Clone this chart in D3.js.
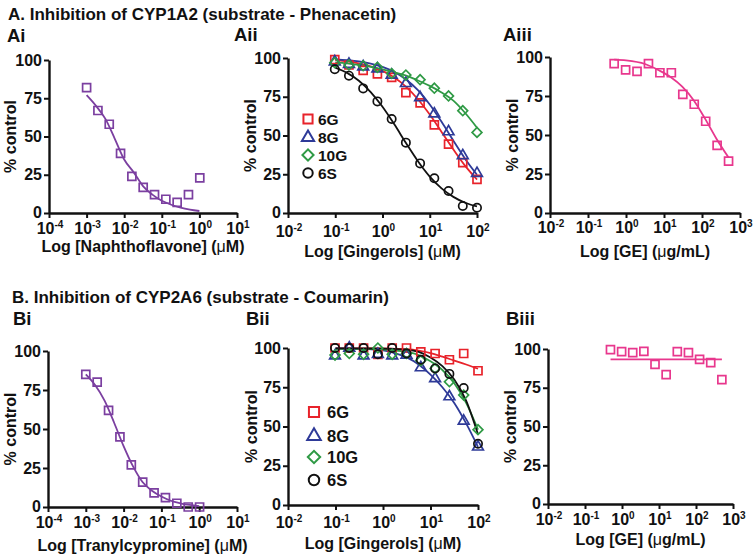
<!DOCTYPE html>
<html>
<head>
<meta charset="utf-8">
<script src="https://cdn.jsdelivr.net/npm/d3@7"></script>
<style>
  html, body { margin: 0; padding: 0; background: #fff; }
  svg { display: block; }
  text { font-family: "Liberation Sans", Arial, sans-serif; font-weight: bold; fill: #111; }
</style>
</head>
<body>
<svg id="chart" width="756" height="558"></svg>
<script>
// ---------------- DATA ----------------
const titleA = "A. Inhibition of CYP1A2 (substrate - Phenacetin)";
const titleB = "B. Inhibition of CYP2A6 (substrate - Coumarin)";
const panelLabels = ["Ai", "Aii", "Aiii", "Bi", "Bii", "Biii"];
const xTitles = ["Log [Naphthoflavone] (", "Log [Gingerols] (", "Log [GE] (", "Log [Tranylcypromine] (", "Log [Gingerols] (", "Log [GE] ("];
const xUnits = ["M)", "M)", "g/mL)", "M)", "M)", "g/mL)"];
const yTitle = "% control";
const yTicks = [0, 25, 50, 75, 100];
const decadesI = [-4, -3, -2, -1, 0, 1];
const decadesII = [-2, -1, 0, 1, 2];
const decadesIII = [-2, -1, 0, 1, 2, 3];
const seriesNames = ["6G", "8G", "10G", "6S"];

// concentrations
const concI = [0.001, 0.002, 0.004, 0.008, 0.016, 0.032, 0.064, 0.128, 0.256, 0.512, 1.024];
const concII = [0.0977, 0.195, 0.39, 0.78, 1.5625, 3.125, 6.25, 12.5, 25, 50, 100];
const concIII = [0.488, 0.977, 1.95, 3.9, 7.8, 15.6, 31.25, 62.5, 125, 250, 500];

// Ai
const valAi = [82, 67, 58, 39, 24, 16.7, 12, 9, 7, 12, 23];
const fitLogAi = [-3, -2.75, -2.5, -2.25, -2, -1.75, -1.5, -1.25, -1, -0.75, -0.5, -0.25, 0];
const fitAi = [77, 70, 61.5, 48.5, 35, 26.7, 17.6, 12, 8, 5.4, 3.5, 2.2, 1.3];

// Aii
const valAii6G = [99, 95.5, 92, 89.7, 87.5, 77.6, 71, 56.8, 44.5, 32.5, 21.7];
const valAii8G = [97.6, 96, 94.4, 93, 89, 83.6, 74.5, 64, 52.5, 37, 25.6];
const valAii10G = [97, 95.5, 95, 94, 90, 89, 86, 80.5, 75.5, 66, 52];
const valAii6S = [92.7, 88.6, 80.4, 72, 60.6, 45.4, 32, 22.4, 14.2, 4.5, 3.4];
const fitLogII = [-1, -0.75, -0.5, -0.25, 0, 0.25, 0.5, 0.75, 1, 1.25, 1.5, 1.75, 2];
const fitAii6G = [98.6, 97.8, 96.5, 94.6, 91.7, 87.4, 81.4, 73.4, 63.5, 52.3, 41, 30.4, 21.6];
const fitAii8G = [99.1, 98.6, 97.8, 96.4, 94.3, 91, 86.1, 79.2, 70, 58.8, 46.6, 34.9, 24.7];
const fitAii10G = [97.2, 96.5, 95.5, 94.3, 92.7, 90.8, 88.6, 85.5, 82, 77.8, 72.5, 64.5, 55];
const fitAii6S = [93.8, 90.4, 85.3, 78, 68.5, 57.2, 45, 33.4, 23.5, 15.9, 10.4, 6.6, 4.2];

// Aiii
const valAiii = [95.7, 91.8, 90.8, 95.7, 89.9, 89.9, 76, 69.7, 58.8, 43.3, 33.3];
const fitLogAiii = [-0.31, 0, 0.5, 0.886, 1.18, 1.48, 1.78, 2.08, 2.38, 2.7];
const fitAiii = [98.3, 97.8, 95.5, 91.2, 87, 81, 72.3, 60.5, 47.6, 35.5];

// Bi
const valBi = [85, 80, 62, 45, 27, 16, 9, 6, 2.4, 0, 0];
const fitBi = [85, 78, 68, 54, 39, 26, 16, 10.4, 6.7, 4, 2.4, 1.3, 0.6];

// Bii
const valBii6G = [100, 100, 100, 96, 100, 100, 97.5, 96.5, 92.5, 96.5, 85.5];
const valBii8G = [95, 100, 95, 96, 95, 95.5, 87.5, 80.5, 69, 53.5, 37];
const valBii10G = [95.5, 96.5, 96, 100, 96, 96.5, 92, 87, 78.5, 70, 48];
const valBii6S = [100, 100, 100, 96, 100, 96.5, 92.5, 87, 83.5, 74.5, 39];
const fitLogBii = [-1, -0.5, 0, 0.25, 0.5, 0.75, 1, 1.25, 1.5, 1.75, 2];
const fitBii6G = [99.8, 99.8, 99.7, 99.5, 99.2, 98.3, 96.8, 94.5, 92, 89.5, 86.8];
const fitBii8G = [99.8, 99.5, 98.5, 96.8, 94, 89.5, 83, 75, 65, 52, 37];
const fitBii10G = [99.5, 99.4, 99, 98.5, 97.5, 95.5, 91.5, 86, 77.5, 65, 48];
const fitBii6S = [99.8, 99.7, 99.6, 99.4, 99, 97.5, 94, 88.5, 80, 66.5, 45];

// Biii
const valBiii = [99.6, 98.3, 97.6, 98.5, 90.1, 83.5, 98.3, 97.6, 93.3, 91.2, 80.3];
const fitLogBiii = [-0.31, 2.7];
const fitBiii = [93.3, 93.3];

// ---------------- STYLE / LAYOUT ----------------
const C = { purple: "#7b3fa0", red: "#e8232b", blue: "#2e3a98", green: "#2f9a45", black: "#111111", pink: "#e8378d" };
const seriesColors = [C.red, C.blue, C.green, C.black];
const seriesSymbols = ["square", "triangle", "diamond", "circle"];

const svg = d3.select("#chart");

function symbolPath(kind, scale) {
  const s = scale || 1;
  if (kind === "square") return d3.symbol(d3.symbolSquare, 64 * s)();
  if (kind === "triangle") return d3.symbol(d3.symbolTriangle, 50 * s)();
  if (kind === "diamond") return d3.symbol(d3.symbolSquare, 48 * s)();
  return d3.symbol(d3.symbolCircle, 54 * s)();
}

const panels = [
  { label: 0, left: 49, right: 237, top: 60, bottom: 213, dom: [-4, 1], dec: decadesI, labX: 7, labY: 42,
    yTitleX: 10, tickBase: 21, titleBase: 39 },
  { label: 1, left: 288, right: 477, top: 58, bottom: 213, dom: [-2, 2], dec: decadesII, labX: 234, labY: 41,
    yTitleX: 250, tickBase: 24, titleBase: 44 },
  { label: 2, left: 550, right: 740, top: 57, bottom: 213, dom: [-2, 3], dec: decadesIII, labX: 503, labY: 41,
    yTitleX: 512, tickBase: 20, titleBase: 44 },
  { label: 3, left: 48, right: 237, top: 351, bottom: 507, dom: [-4, 1], dec: decadesI, labX: 13, labY: 325,
    yTitleX: 10.5, tickBase: 21, titleBase: 44 },
  { label: 4, left: 288, right: 478, top: 348, bottom: 505, dom: [-2, 2], dec: decadesII, labX: 246, labY: 325,
    yTitleX: 251, tickBase: 23, titleBase: 44 },
  { label: 5, left: 548, right: 733, top: 349, bottom: 504, dom: [-2, 3], dec: decadesIII, labX: 506, labY: 325,
    yTitleX: 510, tickBase: 21, titleBase: 41 }
];

// titles
svg.append("text").attr("x", 8).attr("y", 20).style("font-size", "17px").text(titleA);
svg.append("text").attr("x", 12).attr("y", 303).style("font-size", "17px").text(titleB);

function drawPanel(p) {
  const x = d3.scaleLog().domain([Math.pow(10, p.dom[0]), Math.pow(10, p.dom[1])]).range([p.left, p.right]);
  const y = d3.scaleLinear().domain([0, 100]).range([p.bottom, p.top]);
  const g = svg.append("g");

  g.append("text").attr("x", p.labX).attr("y", p.labY).style("font-size", "18.5px").text(panelLabels[p.label]);

  // x axis
  const xa = g.append("g").attr("transform", `translate(0,${p.bottom})`)
    .call(d3.axisBottom(x).tickValues(p.dec.map(d => Math.pow(10, d))).tickSize(5).tickSizeOuter(0).tickFormat(() => ""));
  xa.select(".domain").attr("stroke", "#111").attr("stroke-width", 2.4);
  xa.selectAll(".tick line").attr("stroke", "#111").attr("stroke-width", 2);
  xa.selectAll(".tick text").remove();
  p.dec.forEach(d => {
    const t = g.append("text").attr("x", x(Math.pow(10, d)) + 1).attr("y", p.bottom + p.tickBase)
      .attr("text-anchor", "middle").style("font-size", "16px");
    t.append("tspan").text("10");
    t.append("tspan").attr("dy", -6.5).style("font-size", "10px").text(String(d));
  });

  // y axis
  const ya = g.append("g").attr("transform", `translate(${p.left},0)`)
    .call(d3.axisLeft(y).tickValues(yTicks).tickSize(5).tickSizeOuter(0).tickPadding(2));
  ya.select(".domain").attr("stroke", "#111").attr("stroke-width", 2.4);
  ya.selectAll(".tick line").attr("stroke", "#111").attr("stroke-width", 2);
  ya.selectAll(".tick text").style("font-size", "16px").style("font-family", '"Liberation Sans", Arial, sans-serif')
    .style("font-weight", "bold").attr("fill", "#111");
  ya.selectAll(".tick text").filter(d => d === 0).attr("dy", "0.25em");

  // y title
  g.append("text").attr("transform", `translate(${p.yTitleX},${(p.top + p.bottom) / 2}) rotate(-90)`)
    .attr("text-anchor", "middle").attr("dy", "0.35em").style("font-size", "16px").text(yTitle);

  // x title
  const xt = g.append("text").attr("x", (p.left + p.right) / 2).attr("y", p.bottom + p.titleBase)
    .attr("text-anchor", "middle").style("font-size", "16px");
  xt.append("tspan").text(xTitles[p.label]);
  xt.append("tspan").style("font-weight", "normal").text("\u03bc");
  xt.append("tspan").text(xUnits[p.label]);

  return { g, x, y };
}

function drawFit(ctx, logs, vals, color) {
  const line = d3.line().x(d => ctx.x(Math.pow(10, d[0]))).y(d => ctx.y(d[1])).curve(d3.curveMonotoneX);
  ctx.g.append("path").datum(logs.map((l, i) => [l, vals[i]]))
    .attr("d", line).attr("fill", "none").attr("stroke", color).attr("stroke-width", 1.8);
}

function drawPoints(ctx, conc, vals, color, kind) {
  ctx.g.selectAll(null).data(conc.map((c, i) => [c, vals[i]])).enter().append("path")
    .attr("d", symbolPath(kind))
    .attr("transform", d => `translate(${ctx.x(d[0])},${ctx.y(d[1])})` + (kind === "diamond" ? " rotate(45)" : ""))
    .attr("fill", "none").attr("stroke", color).attr("stroke-width", 1.7);
}

function drawLegend(ctx, mx, ys, tx, fs, sc) {
  seriesNames.forEach((n, i) => {
    ctx.g.append("path").attr("d", symbolPath(seriesSymbols[i], sc))
      .attr("transform", `translate(${mx},${ys[i]})` + (seriesSymbols[i] === "diamond" ? " rotate(45)" : ""))
      .attr("fill", "none").attr("stroke", seriesColors[i]).attr("stroke-width", 2);
    ctx.g.append("text").attr("x", tx).attr("y", ys[i]).attr("dy", "0.36em").style("font-size", fs + "px").text(n);
  });
}

// Ai
const pAi = drawPanel(panels[0]);
drawFit(pAi, fitLogAi, fitAi, C.purple);
drawPoints(pAi, concI, valAi, C.purple, "square");

// Aii
const pAii = drawPanel(panels[1]);
const aiiVals = [valAii6G, valAii8G, valAii10G, valAii6S];
const aiiFits = [fitAii6G, fitAii8G, fitAii10G, fitAii6S];
aiiFits.forEach((f, i) => drawFit(pAii, fitLogII, f, seriesColors[i]));
aiiVals.forEach((v, i) => drawPoints(pAii, concII, v, seriesColors[i], seriesSymbols[i]));
drawLegend(pAii, 308, [119, 137.5, 155, 173], 318, 15.5, 1.3);

// Aiii
const pAiii = drawPanel(panels[2]);
drawFit(pAiii, fitLogAiii, fitAiii, C.pink);
drawPoints(pAiii, concIII, valAiii, C.pink, "square");

// Bi
const pBi = drawPanel(panels[3]);
drawFit(pBi, fitLogAi, fitBi, C.purple);
drawPoints(pBi, concI, valBi, C.purple, "square");

// Bii
const pBii = drawPanel(panels[4]);
const biiVals = [valBii6G, valBii8G, valBii10G, valBii6S];
const biiFits = [fitBii6G, fitBii8G, fitBii10G, fitBii6S];
biiFits.forEach((f, i) => drawFit(pBii, fitLogBii, f, seriesColors[i]));
biiVals.forEach((v, i) => drawPoints(pBii, concII, v, seriesColors[i], seriesSymbols[i]));
drawLegend(pBii, 314, [412, 436, 457, 480], 327, 16.5, 1.6);

// Biii
const pBiii = drawPanel(panels[5]);
drawFit(pBiii, fitLogBiii, fitBiii, C.pink);
drawPoints(pBiii, concIII, valBiii, C.pink, "square");
</script>
</body>
</html>
